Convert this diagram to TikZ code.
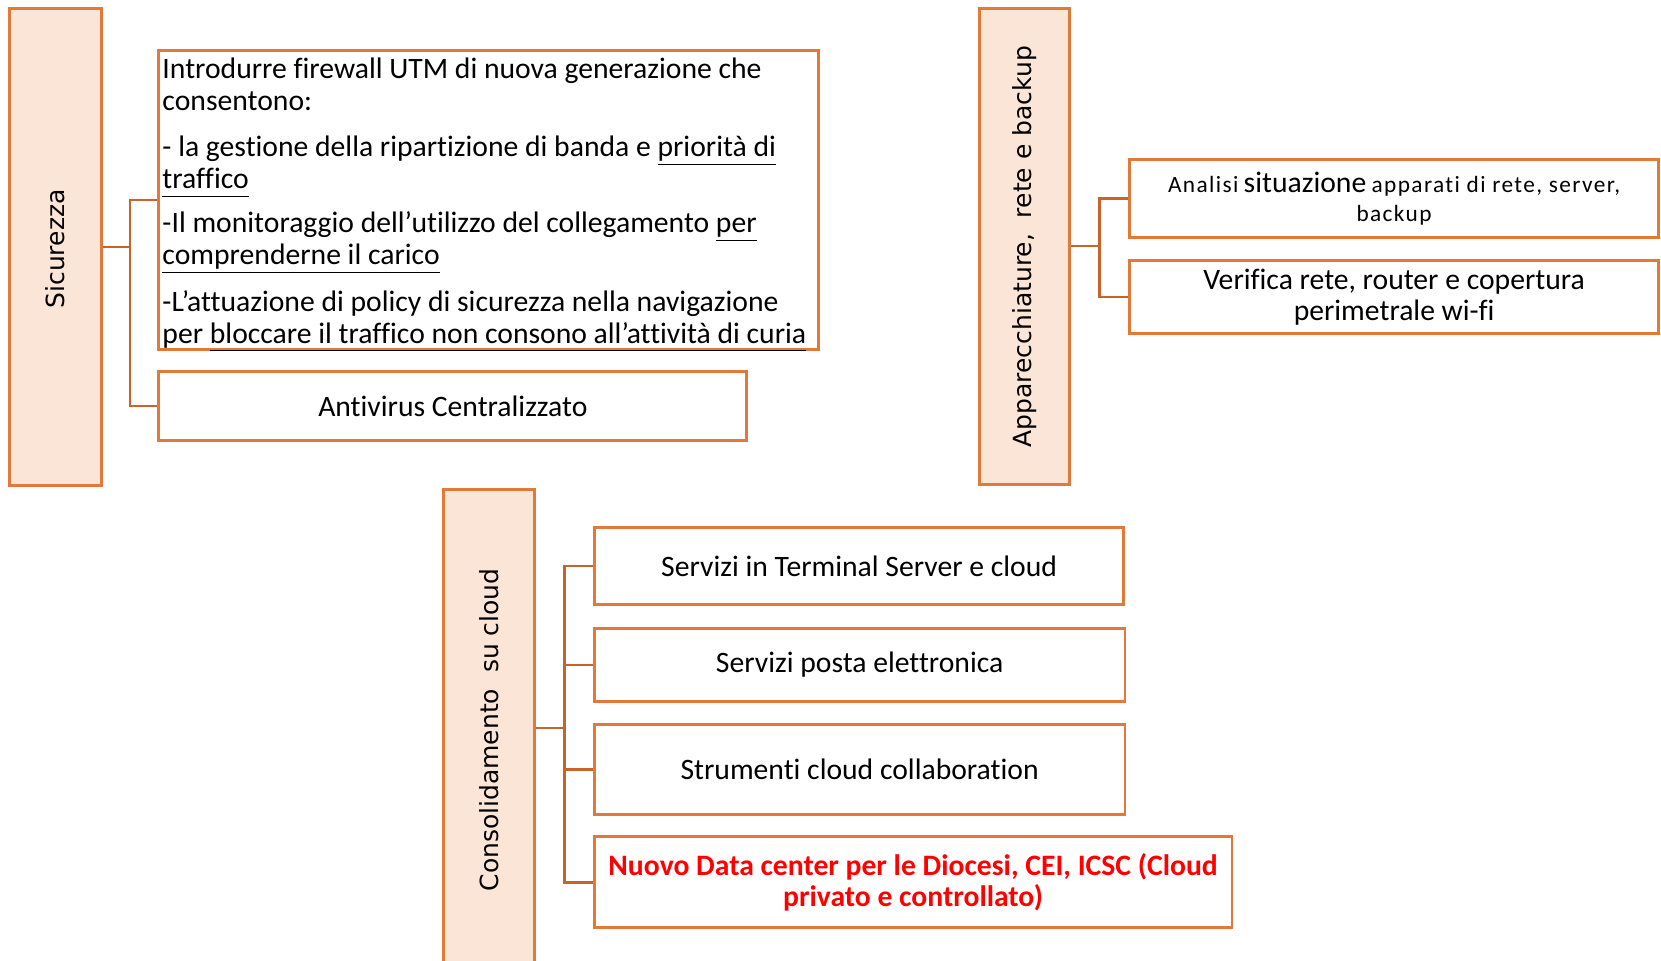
\documentclass[tikz,border=0pt]{standalone}
\usepackage{fontspec}
\setmainfont{Carlito}[Ligatures={NoCommon}]
\newfontfamily\vlabfont{DejaVu Sans}
\usetikzlibrary{calc}
\definecolor{boxorange}{RGB}{226,121,56}
\definecolor{connorange}{RGB}{200,100,42}
\definecolor{peach}{RGB}{251,229,214}
\definecolor{dcred}{RGB}{255,0,0}
\newcommand\ulx[1]{\underline{\vphantom{p}#1}}
\begin{document}
\begin{tikzpicture}[x=0.5pt,y=-0.5pt,
  catbox/.style={draw=boxorange, fill=peach, line width=1.4pt, inner sep=0pt},
  itembox/.style={draw=boxorange, fill=white, line width=1.4pt, inner sep=0pt, align=center,
    font=\fontsize{14}{15}\selectfont},
  vlab/.style={rotate=90, font=\vlabfont\fontsize{11.8}{13}\selectfont, inner sep=0pt},
  conn/.style={draw=connorange, line width=1.1pt}]
\useasboundingbox (0,0) rectangle (1568,907);

% ---------- Sicurezza ----------
\node[catbox, minimum width=43.5pt, minimum height=225pt] (sic) at (52.5,233) {};
\node[vlab] (sicl) at (52,235) {Sicurezza};
\node[itembox, minimum width=311.5pt, minimum height=141pt] (fw) at (461.5,189) {};
\node[anchor=north west, inner sep=0pt, align=left,
      font=\fontsize{14}{15}\selectfont] (fwt) at (153,54)
 {Introdurre firewall UTM di nuova generazione che\\
  consentono:\\[7pt]
  - la gestione della ripartizione di banda e \ulx{priorità di}\\
  \ulx{traffico}\\[6pt]
  -Il monitoraggio dell’utilizzo del collegamento \ulx{per}\\
  \ulx{comprenderne il carico}\\[7pt]
  -L’attuazione di policy di sicurezza nella navigazione\\
  per \ulx{bloccare il traffico non consono all’attività di curia}};
\node[itembox, minimum width=277.5pt, minimum height=32.5pt] (av) at (427.5,383.5) {Antivirus Centralizzato};
\coordinate (sj) at ($(sic.east)!0.5!(fw.west |- sic.east)$);
\draw[conn] (sic.east) -- (sj);
\draw[conn] (fw.west) -| (sj) |- (av.west);

% ---------- Apparecchiature ----------
\node[catbox, minimum width=42.5pt, minimum height=224.5pt] (app) at (967.5,232.5) {};
\node[vlab] (appl) at (967,233) {Apparecchiature,\ \ rete e backup};
\node[itembox, minimum width=250pt, minimum height=36.5pt, font=\fontsize{11}{14}\selectfont] (an) at (1316,187.5)
 {{\addfontfeature{LetterSpace=6}Analisi} {\fontsize{14}{14}\selectfont situazione} {\addfontfeature{LetterSpace=6}apparati di rete, server,}\\
  {\addfontfeature{LetterSpace=6}backup}};
\node[itembox, minimum width=250pt, minimum height=34.5pt] (ve) at (1316,280.5)
 {Verifica rete, router e copertura\\ perimetrale wi-fi};
\coordinate (aj) at ($(app.east)!0.5!(an.west |- app.east)$);
\draw[conn] (app.east) -- (aj);
\draw[conn] (an.west) -| (aj) |- (ve.west);

% ---------- Consolidamento ----------
\node[catbox, minimum width=43pt, minimum height=225pt] (con) at (462,687) {};
\node[vlab] (conl) at (462,689) {Consolidamento\ \ su cloud};
\node[itembox, minimum width=250pt, minimum height=36.5pt] (ts) at (811,534.5) {Servizi in Terminal Server e cloud};
\node[itembox, minimum width=250.5pt, minimum height=34.5pt] (po) at (811.5,627.5) {Servizi posta elettronica};
\node[itembox, minimum width=250.5pt, minimum height=42.5pt] (stc) at (811.5,726.5) {Strumenti cloud collaboration};
\node[itembox, minimum width=301pt, minimum height=43pt, text=dcred, font=\bfseries\fontsize{14}{15}\selectfont] (dc) at (862,833)
 {Nuovo Data center per le Diocesi, CEI, ICSC (Cloud\\ privato e controllato)};
\coordinate (cj) at ($(con.east)!0.5!(ts.west |- con.east)$);
\draw[conn] (con.east) -- (cj);
\draw[conn] (ts.west) -| (cj) |- (dc.west);
\draw[conn] (po.west) -- (po.west -| cj);
\draw[conn] (stc.west) -- (stc.west -| cj);
\end{tikzpicture}
\end{document}
